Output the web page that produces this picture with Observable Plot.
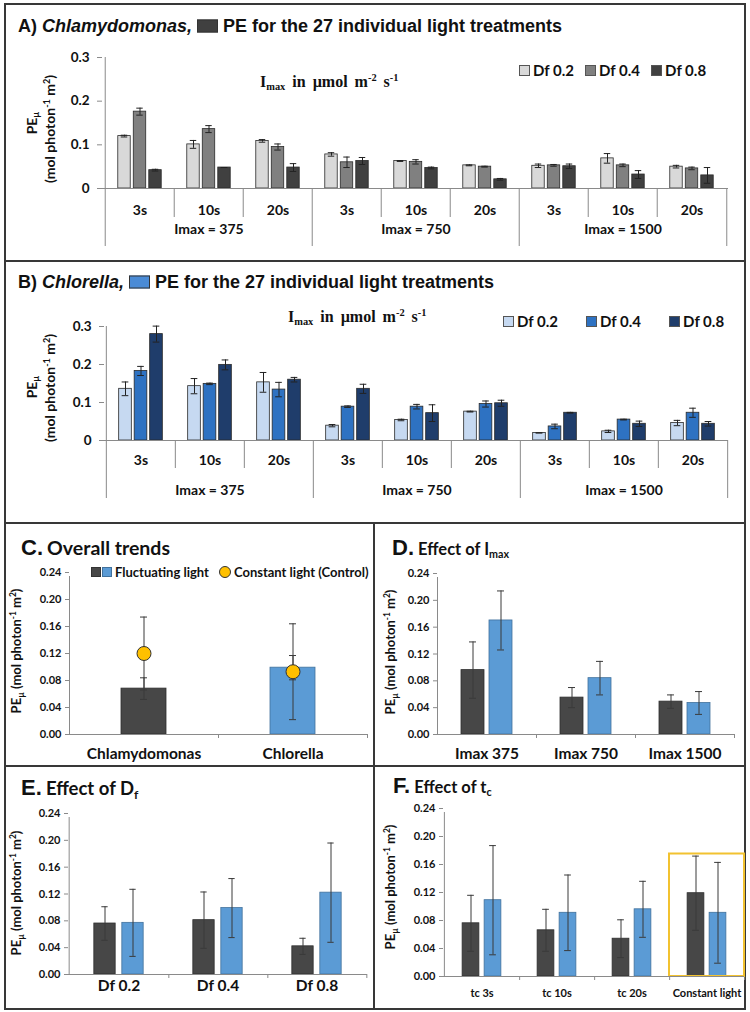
<!DOCTYPE html>
<html><head><meta charset="utf-8">
<script src="https://cdn.jsdelivr.net/npm/d3@7"></script>
<script src="https://cdn.jsdelivr.net/npm/@observablehq/plot@0.6"></script>
<style>
body{margin:0;background:#fff;}
#fig{position:relative;width:750px;height:1012px;overflow:hidden;font-family:Lato,"Open Sans",sans-serif;color:#111;background:#fff;}
.box{position:absolute;border:2px solid #383838;box-sizing:border-box;}
.lbl{position:absolute;white-space:nowrap;line-height:1;}
sub{font-size:65%;vertical-align:-0.3em;line-height:0;}
sup{font-size:65%;vertical-align:0.55em;line-height:0;}
.sw{display:inline-block;box-sizing:border-box;border:1px solid #333;}
.plot{position:absolute;}
</style></head>
<body><div id="fig"></div>
<script>
// ---------- DATA ----------
const imaxLevels = ["375", "750", "1500"];
const tcLevels = ["3s", "10s", "20s"];
const dfLevels = ["Df 0.2", "Df 0.4", "Df 0.8"];
// rows: Imax 375 (3s,10s,20s), Imax 750 (...), Imax 1500 (...); columns: Df 0.2, 0.4, 0.8
const chlamyMean = [
  [0.120, 0.176, 0.042], [0.101, 0.136, 0.048], [0.109, 0.095, 0.048],
  [0.078, 0.060, 0.063], [0.063, 0.061, 0.047], [0.053, 0.050, 0.021],
  [0.052, 0.053, 0.051], [0.069, 0.053, 0.032], [0.050, 0.046, 0.030]];
const chlamyErr = [
  [0.002, 0.008, 0.002], [0.009, 0.008, 0.000], [0.003, 0.007, 0.009],
  [0.004, 0.012, 0.008], [0.001, 0.005, 0.002], [0.001, 0.001, 0.002],
  [0.004, 0.002, 0.005], [0.011, 0.003, 0.009], [0.003, 0.003, 0.018]];
const chlorMean = [
  [0.136, 0.183, 0.280], [0.143, 0.149, 0.199], [0.153, 0.134, 0.160],
  [0.039, 0.089, 0.136], [0.054, 0.089, 0.072], [0.076, 0.096, 0.098],
  [0.020, 0.037, 0.073], [0.024, 0.055, 0.044], [0.046, 0.073, 0.044]];
const chlorErr = [
  [0.018, 0.012, 0.021], [0.020, 0.002, 0.013], [0.026, 0.019, 0.006],
  [0.003, 0.002, 0.012], [0.002, 0.006, 0.022], [0.001, 0.008, 0.008],
  [0.000, 0.006, 0.001], [0.003, 0.001, 0.007], [0.007, 0.012, 0.006]];
const yTicksTreat = [0, 0.1, 0.2, 0.3];

// Panel C
const speciesNames = ["Chlamydomonas", "Chlorella"];
const fluctMean = [0.068, 0.099];
const fluctErr = [0.016, 0.018];
const constMean = [0.120, 0.093];
const constErr = [0.054, 0.071];
// Panel D
const imaxCats = ["Imax 375", "Imax 750", "Imax 1500"];
const imaxChlamy = [0.096, 0.055, 0.049], imaxChlamyErr = [0.042, 0.015, 0.010];
const imaxChlor = [0.170, 0.084, 0.047], imaxChlorErr = [0.044, 0.025, 0.017];
// Panel E
const dfCats = ["Df 0.2", "Df 0.4", "Df 0.8"];
const dfChlamy = [0.076, 0.081, 0.042], dfChlamyErr = [0.025, 0.042, 0.012];
const dfChlor = [0.077, 0.099, 0.122], dfChlorErr = [0.050, 0.044, 0.074];
// Panel F
const tcCats = ["tc 3s", "tc 10s", "tc 20s", "Constant light"];
const tcChlamy = [0.076, 0.066, 0.054, 0.119], tcChlamyErr = [0.040, 0.030, 0.027, 0.053];
const tcChlor = [0.109, 0.091, 0.096, 0.091], tcChlorErr = [0.078, 0.054, 0.040, 0.072];
const highlightCat = "Constant light", highlightTop = 0.175;
const yTicksSummary = [0, 0.04, 0.08, 0.12, 0.16, 0.20, 0.24];

// ---------- STYLE ----------
const dfColorsA = ["#d9d9d9", "#808080", "#404040"];
const dfColorsB = ["#c6d9f1", "#2e72c2", "#1f3d6b"];
const spColors = ["#474747", "#5b9bd5"];
const spStrokes = ["#2e2e2e", "#41719c"];
const axisColor = "#8a8a8a";
const errColor = "#222";

const fig = document.getElementById("fig");
function box(l, t, w, h) { const d = document.createElement("div"); d.className = "box"; d.style.cssText = `left:${l}px;top:${t}px;width:${w}px;height:${h}px;`; fig.appendChild(d); }
function label(h, x, y, css = "", center = false) {
  const d = document.createElement("div"); d.className = "lbl"; d.innerHTML = h;
  d.style.cssText = `left:${x}px;top:${y}px;transform:translate(${center ? "-50%" : "0"},-50%);` + css;
  fig.appendChild(d); return d;
}
function vlabel(h, cx, cy, css = "") {
  const d = document.createElement("div"); d.className = "lbl"; d.innerHTML = h;
  d.style.cssText = `left:${cx}px;top:${cy}px;transform:translate(-50%,-50%) rotate(-90deg);` + css;
  fig.appendChild(d); return d;
}
function mount(svg, l, t) { svg.classList.add("plot"); svg.style.left = l + "px"; svg.style.top = t + "px"; fig.appendChild(svg); }

function errMarks(d, o, bw, cap, stroke, sw) {
  const ins = (bw - cap) / 2;
  return [
    Plot.ruleX(d, {x: "k", y1: r => r.v - r.e, y2: r => r.v + r.e, dx: o, stroke, strokeWidth: sw}),
    Plot.tickY(d, {x: "k", y: r => r.v + r.e, dx: o, insetLeft: ins, insetRight: ins, stroke, strokeWidth: sw}),
    Plot.tickY(d, {x: "k", y: r => r.v - r.e, dx: o, insetLeft: ins, insetRight: ins, stroke, strokeWidth: sw})
  ];
}

// ---------- PANELS A / B ----------
function treatmentPanel(cfg) {
  const {mean, err, colors, height, ml, mr, mt, mb, subLen, majLen, tcDy, grpDy} = cfg;
  const keys = [], rows = [];
  imaxLevels.forEach((im, i) => tcLevels.forEach((tc, j) => {
    const k = im + "|" + tc; keys.push(k);
    dfLevels.forEach((df, s) => rows.push({k, s, v: mean[i * 3 + j][s], e: err[i * 3 + j][s]}));
  }));
  const bw = (750 - ml - mr) / keys.length;
  const barW = 13, off = 15.5, cap = 7;
  const marks = [
    Plot.ruleX(keys.filter((k, i) => i % 3 === 0), {x: d => d, y1: 0, y2: 0, dx: -bw / 2, insetBottom: -majLen, stroke: axisColor}),
    Plot.ruleX(keys.filter((k, i) => i % 3 !== 0), {x: d => d, y1: 0, y2: 0, dx: -bw / 2, insetBottom: -subLen, stroke: axisColor}),
    Plot.ruleX([keys[keys.length - 1]], {x: d => d, y1: 0, y2: 0, dx: bw / 2, insetBottom: -majLen, stroke: axisColor}),
    Plot.ruleX([keys[0]], {x: d => d, y1: 0, y2: yTicksTreat[yTicksTreat.length - 1], dx: -bw / 2, stroke: axisColor}),
    Plot.axisY({ticks: yTicksTreat, tickFormat: d => d === 0 ? "0" : d.toFixed(1), tickSize: 5, tickPadding: 8, fontSize: 13.5, fontWeight: "bold", stroke: axisColor, label: null}),
  ];
  dfLevels.forEach((df, s) => {
    const d = rows.filter(r => r.s === s), o = (s - 1) * off, ins = (bw - barW) / 2;
    marks.push(Plot.barY(d, {x: "k", y: "v", fill: colors[s], stroke: "#2a2a2a", strokeWidth: 0.8, insetLeft: ins + o, insetRight: ins - o}));
    marks.push(...errMarks(d, o, bw, cap, errColor, 1));
  });
  marks.push(Plot.ruleY([0], {stroke: axisColor}));
  marks.push(Plot.text(keys, {x: d => d, text: d => d.split("|")[1], frameAnchor: "bottom", dy: tcDy, lineAnchor: "middle", fontSize: 14, fontWeight: "bold", fill: "#111"}));
  marks.push(Plot.text(imaxLevels, {x: d => d + "|" + tcLevels[1], text: d => "Imax = " + d, frameAnchor: "bottom", dy: grpDy, lineAnchor: "middle", fontSize: 14, fontWeight: "bold", fill: "#111"}));
  return Plot.plot({
    width: 750, height, marginLeft: ml, marginRight: mr, marginTop: mt, marginBottom: mb,
    x: {domain: keys, padding: 0, axis: null},
    y: {domain: [0, 0.3], axis: null},
    style: {fontFamily: "Lato", color: "#111", background: "transparent", overflow: "visible"},
    marks
  });
}

// ---------- PANELS C-F ----------
function summaryPanel(cfg) {
  const {cats, series, barW, offsets, cap, width, height, ml, mr, mt, mb, labelSize, labelDy, extra = () => []} = cfg;
  const bw = (width - ml - mr) / cats.length;
  const marks = [
    Plot.ruleX([cats[0]], {x: d => d, y1: 0, y2: 0.24, dx: -bw / 2, insetBottom: -4, stroke: axisColor}),
    Plot.ruleX(cats, {x: d => d, y1: 0, y2: 0, dx: bw / 2, insetBottom: -4, stroke: axisColor}),
    Plot.axisY({ticks: yTicksSummary, tickFormat: d => d.toFixed(2), tickSize: 4, tickPadding: 4, fontSize: 11, fontWeight: "bold", stroke: axisColor, label: null}),
  ];
  series.forEach((sr, s) => {
    const d = cats.map((c, i) => ({k: c, i, v: sr.v[i], e: sr.e[i]})), o = offsets[s], ins = (bw - barW) / 2;
    if (Array.isArray(sr.color)) {
      d.forEach(r => marks.push(Plot.barY([r], {x: "k", y: "v", fill: sr.color[r.i], stroke: sr.stroke[r.i], strokeWidth: 0.8, insetLeft: ins + o, insetRight: ins - o})));
    } else {
      marks.push(Plot.barY(d, {x: "k", y: "v", fill: sr.color, stroke: sr.stroke, strokeWidth: 0.8, insetLeft: ins + o, insetRight: ins - o}));
    }
    marks.push(...errMarks(d, o, bw, cap, "#3a3a3a", 1));
  });
  marks.push(...extra(bw));
  marks.push(Plot.ruleY([0], {stroke: axisColor}));
  marks.push(Plot.text(cats, {x: d => d, text: d => d, frameAnchor: "bottom", dy: labelDy, lineAnchor: "middle", fontSize: labelSize, fontWeight: "bold", fill: "#111"}));
  return Plot.plot({
    width, height, marginLeft: ml, marginRight: mr, marginTop: mt, marginBottom: mb,
    x: {domain: cats, padding: 0, axis: null},
    y: {domain: [0, 0.24], axis: null},
    style: {fontFamily: "Lato", color: "#111", background: "transparent", overflow: "visible"},
    marks
  });
}

// ---------- BUILD ----------
box(4, 3, 742, 259);
box(4, 260, 742, 264);
box(4, 522, 371, 245);
box(373, 522, 373, 245);
box(4, 765, 371, 245);
box(373, 765, 373, 245);

mount(treatmentPanel({mean: chlamyMean, err: chlamyErr, colors: dfColorsA, height: 258, ml: 102, mr: 22, mt: 57, mb: 70, subLen: 29, majLen: 58, tcDy: 22, grpDy: 41}), 0, 0);
mount(treatmentPanel({mean: chlorMean, err: chlorErr, colors: dfColorsB, height: 260, ml: 104, mr: 22, mt: 64, mb: 82, subLen: 28, majLen: 58, tcDy: 20, grpDy: 50}), 0, 262);

const sp2 = (a, ae, b, be) => [
  {v: a, e: ae, color: spColors[0], stroke: spStrokes[0]},
  {v: b, e: be, color: spColors[1], stroke: spStrokes[1]}];

// C
mount(summaryPanel({
  cats: speciesNames, series: [{v: fluctMean, e: fluctErr, color: spColors, stroke: spStrokes}],
  barW: 45, offsets: [0], cap: 7, width: 373, height: 240, ml: 69, mr: 6, mt: 47, mb: 31, labelSize: 15.5, labelDy: 20,
  extra: (bw) => {
    const d = speciesNames.map((c, i) => ({k: c, v: constMean[i], e: constErr[i]}));
    return [...errMarks(d, 0, bw, 7, "#3a3a3a", 1), Plot.dot(d, {x: "k", y: "v", r: 7, fill: "#ffc000", stroke: "#333", strokeWidth: 1})];
  }
}), 0, 525);
// D
mount(summaryPanel({
  cats: imaxCats, series: sp2(imaxChlamy, imaxChlamyErr, imaxChlor, imaxChlorErr),
  barW: 23, offsets: [-14, 14], cap: 7, width: 373, height: 240, ml: 64, mr: 12, mt: 48, mb: 31, labelSize: 15.5, labelDy: 20
}), 373, 525);
// E
mount(summaryPanel({
  cats: dfCats, series: sp2(dfChlamy, dfChlamyErr, dfChlor, dfChlorErr),
  barW: 22, offsets: [-14, 14], cap: 7, width: 373, height: 243, ml: 68, mr: 6, mt: 48, mb: 34, labelSize: 15.5, labelDy: 12
}), 0, 765);
// F
mount(summaryPanel({
  cats: tcCats, series: sp2(tcChlamy, tcChlamyErr, tcChlor, tcChlorErr),
  barW: 17, offsets: [-11, 11], cap: 7, width: 373, height: 243, ml: 70, mr: 2, mt: 43, mb: 32, labelSize: 11, labelDy: 17,
  extra: () => [Plot.barY([{k: highlightCat}], {x: "k", y1: 0, y2: highlightTop, fill: "none", stroke: "#f2c230", strokeWidth: 2})]
}), 373, 765);

// ---------- TEXT ----------
const titleCss = "font:bold 18px 'Liberation Sans',Arial,sans-serif;";
label(`A) <i>Chlamydomonas,</i> <span class="sw" style="width:21px;height:13px;background:#404040;vertical-align:-1px"></span> PE for the 27 individual light treatments`, 18, 26, titleCss);
label(`B) <i>Chlorella,</i> <span class="sw" style="width:21px;height:13px;background:#4a8bd6;vertical-align:-1px"></span> PE for the 27 individual light treatments`, 18, 282, titleCss);

const serifCss = "font:bold 16px 'Liberation Serif','DejaVu Serif',serif;word-spacing:3px;";
const imaxTxt = `I<sub>max</sub> in µmol m<sup>-2</sup> s<sup>-1</sup>`;
label(imaxTxt, 260, 82, serifCss);
label(imaxTxt, 288, 317, serifCss);

function dfLegend(colors, x, y, gap) {
  const items = dfLevels.map((df, i) => `<span style="display:inline-flex;align-items:center;margin-right:${gap}px"><span class="sw" style="width:11px;height:11px;background:${colors[i]};border-color:#555;margin-right:3px"></span>${df}</span>`).join("");
  label(items, x, y, "font:bold 15px Lato,sans-serif;display:flex;align-items:center;");
}
dfLegend(dfColorsA, 519, 70, 11);
dfLegend(dfColorsB, 503, 321, 28);

const ylabCss = "font:bold 14px Lato,sans-serif;";
vlabel(`PE<sub>µ</sub>`, 31, 123, ylabCss);
vlabel(`(mol photon<sup>-1</sup> m<sup>2</sup>)`, 49, 129, ylabCss);
vlabel(`PE<sub>µ</sub>`, 31, 387, ylabCss);
vlabel(`(mol photon<sup>-1</sup> m<sup>2</sup>)`, 49, 388, ylabCss);

const ylab2 = `PE<sub>µ</sub> (mol photon<sup>-1</sup> m<sup>2</sup>)`;
const ylab2Css = "font:bold 13px Lato,sans-serif;";
vlabel(ylab2, 16, 651, ylab2Css);
vlabel(ylab2, 390, 652, ylab2Css);
vlabel(ylab2, 16, 893, ylab2Css);
vlabel(ylab2, 390, 887, ylab2Css);

const bigCss = "font:bold 22px 'Liberation Sans',Arial,sans-serif;";
const subTitle = (letter, txt, size) => `<span style="${bigCss}">${letter}</span> <span style="font:bold ${size}px Lato,sans-serif">${txt}</span>`;
label(subTitle("C.", "Overall trends", 19.5), 21, 548);
label(subTitle("D.", "Effect of I<sub>max</sub>", 16.5), 392, 548);
label(subTitle("E.", "Effect of D<sub>f</sub>", 18.5), 21, 788);
label(subTitle("F.", "Effect of t<sub>c</sub>", 16.5), 393, 786);

label(`<span class="sw" style="width:10px;height:10px;background:${spColors[0]};margin-right:1px"></span><span class="sw" style="width:10px;height:10px;background:${spColors[1]};border-color:${spStrokes[1]};margin-right:3px"></span>Fluctuating light<span style="display:inline-block;width:12px;height:12px;border-radius:50%;background:#ffc000;border:1px solid #333;box-sizing:border-box;margin:0 3px 0 10px"></span>Constant light (Control)`, 91, 572, "font:bold 13px Lato,sans-serif;display:flex;align-items:center;");
</script>
</body></html>
